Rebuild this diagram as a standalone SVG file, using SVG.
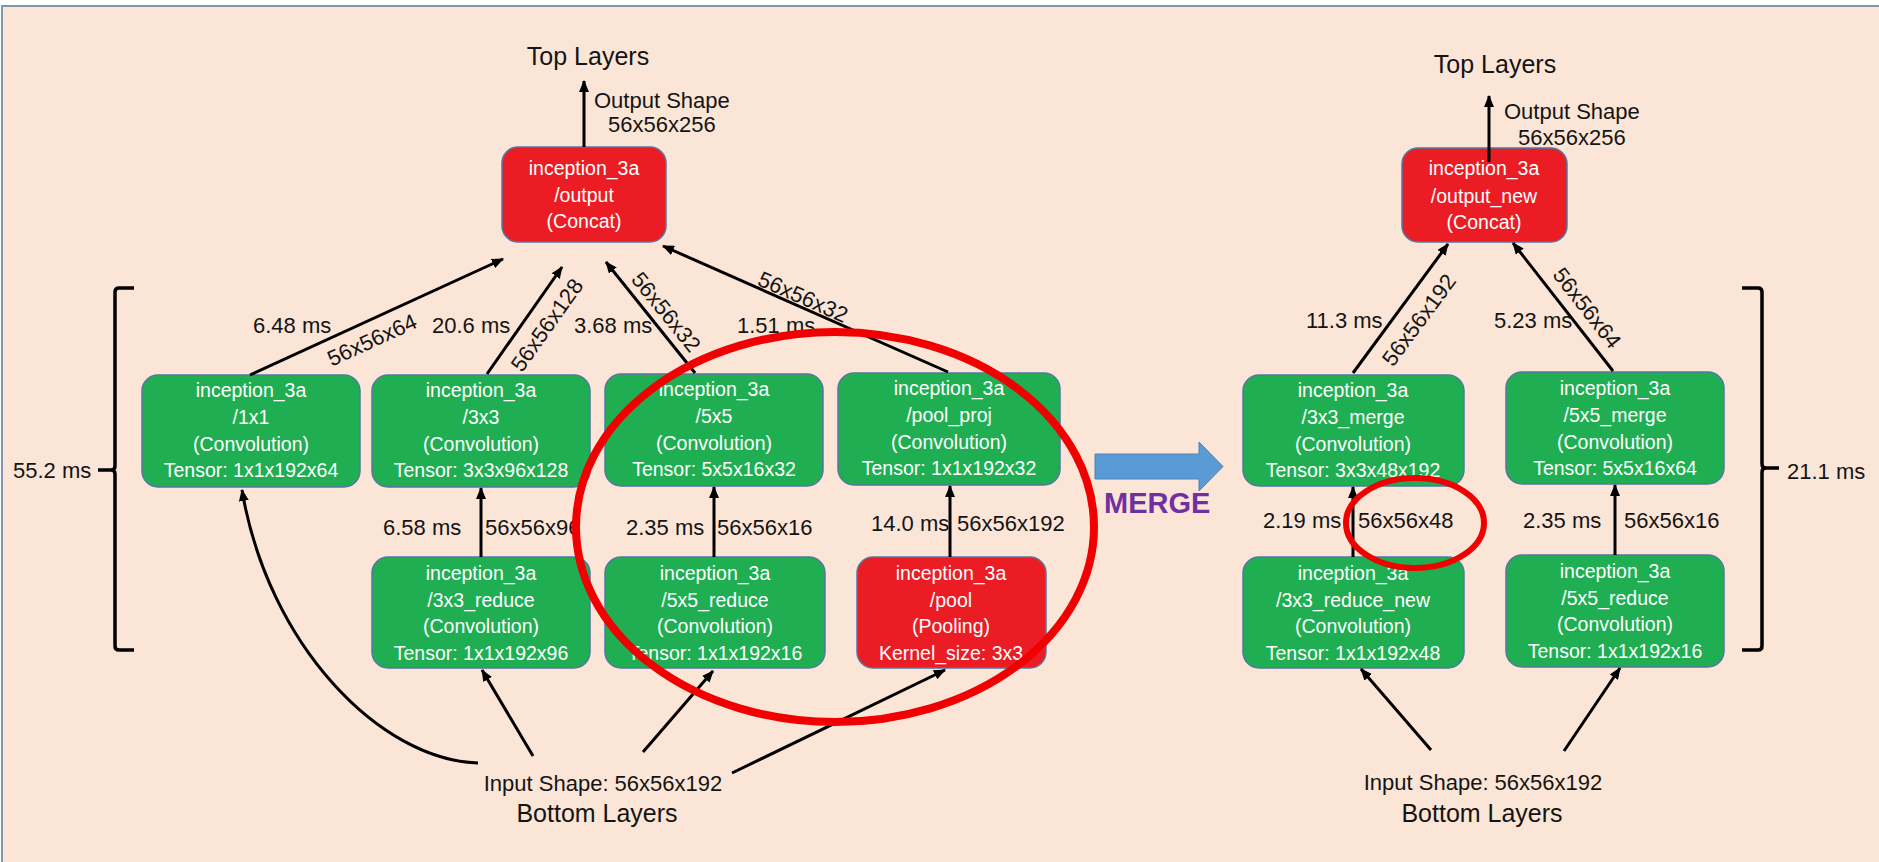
<svg xmlns="http://www.w3.org/2000/svg" width="1879" height="862" viewBox="0 0 1879 862">
<defs>
<style>
.bg{fill:#FBE5D6;stroke:#7F93B3;stroke-width:2}
.node rect{stroke:#5476A4;stroke-width:1.5}
.g{fill:#1FAF52}
.r{fill:#EC1C24}
.nt{font-family:"Liberation Sans",Arial,sans-serif;font-size:19.5px;fill:#fff;text-anchor:middle}
.lb{font-family:"Liberation Sans",Arial,sans-serif;font-size:22px;fill:#141414}
.big{font-family:"Liberation Sans",Arial,sans-serif;font-size:25px;fill:#141414;text-anchor:middle}
.rt{text-anchor:middle;dominant-baseline:central}
.conn line,.conn path{stroke:#000;stroke-width:3;fill:none;marker-end:url(#ah)}
.br{stroke:#000;stroke-width:3.5;fill:none}
.ring{fill:none;stroke:#F00000}
</style>
<marker id="ah" viewBox="0 0 12 10" refX="11" refY="5" markerWidth="12" markerHeight="10" markerUnits="userSpaceOnUse" orient="auto">
<path d="M0,0 L12,5 L0,10 z" fill="#000"/>
</marker>
</defs>
<rect x="0" y="0" width="1879" height="862" fill="#FFFFFF"/>
<rect class="bg" x="2" y="6" width="1890" height="870"/>

<!-- Left diagram nodes -->
<g id="output" class="node">
<rect class="r" x="502" y="147" width="164" height="95" rx="16"/>
<text class="nt" x="584" y="175">inception_3a</text>
<text class="nt" x="584" y="202">/output</text>
<text class="nt" x="584" y="228">(Concat)</text>
</g>
<g id="conv1x1" class="node">
<rect class="g" x="142" y="375" width="218" height="112" rx="16"/>
<text class="nt" x="251" y="397">inception_3a</text>
<text class="nt" x="251" y="424">/1x1</text>
<text class="nt" x="251" y="451">(Convolution)</text>
<text class="nt" x="251" y="477">Tensor: 1x1x192x64</text>
</g>
<g id="conv3x3" class="node">
<rect class="g" x="372" y="375" width="218" height="112" rx="16"/>
<text class="nt" x="481" y="397">inception_3a</text>
<text class="nt" x="481" y="424">/3x3</text>
<text class="nt" x="481" y="451">(Convolution)</text>
<text class="nt" x="481" y="477">Tensor: 3x3x96x128</text>
</g>
<g id="conv5x5" class="node">
<rect class="g" x="605" y="374" width="218" height="112" rx="16"/>
<text class="nt" x="714" y="396">inception_3a</text>
<text class="nt" x="714" y="423">/5x5</text>
<text class="nt" x="714" y="450">(Convolution)</text>
<text class="nt" x="714" y="476">Tensor: 5x5x16x32</text>
</g>
<g id="poolproj" class="node">
<rect class="g" x="838" y="373" width="222" height="112" rx="16"/>
<text class="nt" x="949" y="395">inception_3a</text>
<text class="nt" x="949" y="422">/pool_proj</text>
<text class="nt" x="949" y="449">(Convolution)</text>
<text class="nt" x="949" y="475">Tensor: 1x1x192x32</text>
</g>
<g id="reduce3x3" class="node">
<rect class="g" x="372" y="557" width="218" height="111" rx="16"/>
<text class="nt" x="481" y="580">inception_3a</text>
<text class="nt" x="481" y="607">/3x3_reduce</text>
<text class="nt" x="481" y="633">(Convolution)</text>
<text class="nt" x="481" y="660">Tensor: 1x1x192x96</text>
</g>
<g id="reduce5x5" class="node">
<rect class="g" x="605" y="557" width="220" height="111" rx="16"/>
<text class="nt" x="715" y="580">inception_3a</text>
<text class="nt" x="715" y="607">/5x5_reduce</text>
<text class="nt" x="715" y="633">(Convolution)</text>
<text class="nt" x="715" y="660">Tensor: 1x1x192x16</text>
</g>
<g id="pool" class="node">
<rect class="r" x="857" y="557" width="189" height="111" rx="16"/>
<text class="nt" x="951" y="580">inception_3a</text>
<text class="nt" x="951" y="607">/pool</text>
<text class="nt" x="951" y="633">(Pooling)</text>
<text class="nt" x="951" y="660">Kernel_size: 3x3</text>
</g>

<!-- Right diagram nodes -->
<g id="output_new" class="node">
<rect class="r" x="1402" y="148" width="165" height="94" rx="16"/>
<text class="nt" x="1484" y="175">inception_3a</text>
<text class="nt" x="1484" y="203">/output_new</text>
<text class="nt" x="1484" y="229">(Concat)</text>
</g>
<g id="merge3x3" class="node">
<rect class="g" x="1243" y="375" width="221" height="111" rx="16"/>
<text class="nt" x="1353" y="397">inception_3a</text>
<text class="nt" x="1353" y="424">/3x3_merge</text>
<text class="nt" x="1353" y="451">(Convolution)</text>
<text class="nt" x="1353" y="477">Tensor: 3x3x48x192</text>
</g>
<g id="merge5x5" class="node">
<rect class="g" x="1506" y="372" width="218" height="112" rx="16"/>
<text class="nt" x="1615" y="395">inception_3a</text>
<text class="nt" x="1615" y="422">/5x5_merge</text>
<text class="nt" x="1615" y="449">(Convolution)</text>
<text class="nt" x="1615" y="475">Tensor: 5x5x16x64</text>
</g>
<g id="reduce3x3_new" class="node">
<rect class="g" x="1243" y="557" width="221" height="111" rx="16"/>
<text class="nt" x="1353" y="580">inception_3a</text>
<text class="nt" x="1353" y="607">/3x3_reduce_new</text>
<text class="nt" x="1353" y="633">(Convolution)</text>
<text class="nt" x="1353" y="660">Tensor: 1x1x192x48</text>
</g>
<g id="reduce5x5_r" class="node">
<rect class="g" x="1506" y="555" width="218" height="112" rx="16"/>
<text class="nt" x="1615" y="578">inception_3a</text>
<text class="nt" x="1615" y="605">/5x5_reduce</text>
<text class="nt" x="1615" y="631">(Convolution)</text>
<text class="nt" x="1615" y="658">Tensor: 1x1x192x16</text>
</g>

<!-- Connectors -->
<g id="connectors" class="conn">
<line x1="584" y1="147" x2="584" y2="81"/>
<line x1="250" y1="375" x2="503" y2="259"/>
<line x1="487" y1="374" x2="562" y2="267"/>
<line x1="695" y1="373" x2="606" y2="262"/>
<line x1="948" y1="372" x2="663" y2="246"/>
<line x1="481" y1="557" x2="481" y2="488"/>
<line x1="714" y1="557" x2="714" y2="487"/>
<line x1="950" y1="557" x2="950" y2="486"/>
<path d="M478,763 C380,760 268,645 242,490"/>
<line x1="533" y1="756" x2="482" y2="670"/>
<line x1="643" y1="752" x2="713" y2="671"/>
<line x1="732" y1="773" x2="945" y2="670"/>
<line x1="1489" y1="162" x2="1489" y2="96"/>
<line x1="1353" y1="373" x2="1448" y2="244"/>
<line x1="1613" y1="371" x2="1513" y2="243"/>
<line x1="1353" y1="557" x2="1353" y2="487"/>
<line x1="1615" y1="555" x2="1615" y2="485"/>
<line x1="1431" y1="750" x2="1361" y2="669"/>
<line x1="1564" y1="751" x2="1620" y2="668"/>
</g>

<!-- Labels left -->
<g id="labels-left">
<text class="big" x="588" y="65">Top Layers</text>
<text class="lb" x="594" y="108">Output Shape</text>
<text class="lb" x="608" y="132">56x56x256</text>
<text class="lb" x="253" y="333">6.48 ms</text>
<text class="lb" x="432" y="333">20.6 ms</text>
<text class="lb" x="574" y="333">3.68 ms</text>
<text class="lb" x="737" y="333">1.51 ms</text>
<text class="lb rt" transform="translate(372,340) rotate(-24.6)">56x56x64</text>
<text class="lb rt" transform="translate(547,325) rotate(-54.7)">56x56x128</text>
<text class="lb rt" transform="translate(666,312) rotate(51)">56x56x32</text>
<text class="lb rt" transform="translate(803,297) rotate(23.7)">56x56x32</text>
<text class="lb" x="383" y="535">6.58 ms</text>
<text class="lb" x="485" y="535">56x56x96</text>
<text class="lb" x="626" y="535">2.35 ms</text>
<text class="lb" x="717" y="535">56x56x16</text>
<text class="lb" x="871" y="531">14.0 ms</text>
<text class="lb" x="957" y="531">56x56x192</text>
<text class="lb" x="13" y="478">55.2 ms</text>
<text class="lb" x="603" y="791" text-anchor="middle">Input Shape: 56x56x192</text>
<text class="big" x="597" y="822">Bottom Layers</text>
</g>

<!-- Labels right -->
<g id="labels-right">
<text class="big" x="1495" y="73">Top Layers</text>
<text class="lb" x="1504" y="119">Output Shape</text>
<text class="lb" x="1518" y="145">56x56x256</text>
<text class="lb" x="1306" y="328">11.3 ms</text>
<text class="lb" x="1494" y="328">5.23 ms</text>
<text class="lb rt" transform="translate(1419,320) rotate(-53.4)">56x56x192</text>
<text class="lb rt" transform="translate(1587,308) rotate(52)">56x56x64</text>
<text class="lb" x="1263" y="528">2.19 ms</text>
<text class="lb" x="1358" y="528">56x56x48</text>
<text class="lb" x="1523" y="528">2.35 ms</text>
<text class="lb" x="1624" y="528">56x56x16</text>
<text class="lb" x="1787" y="479">21.1 ms</text>
<text class="lb" x="1483" y="790" text-anchor="middle">Input Shape: 56x56x192</text>
<text class="big" x="1482" y="822">Bottom Layers</text>
</g>

<!-- Brackets -->
<path class="br" d="M134,288 L119,288 Q115,288 115,292 L115,466 Q115,470 111,470 L98,470 M111,470 Q115,470 115,474 L115,646 Q115,650 119,650 L134,650"/>
<path class="br" d="M1742,288 L1758,288 Q1762,288 1762,292 L1762,464 Q1762,468 1766,468 L1779,468 M1766,468 Q1762,468 1762,472 L1762,646 Q1762,650 1758,650 L1742,650"/>

<!-- MERGE arrow -->
<g id="merge">
<polygon points="1095,454 1199,454 1199,442 1223,466.5 1199,491 1199,479 1095,479" fill="#5B9BD5" stroke="#4A83BC" stroke-width="1"/>
<text x="1104" y="513" font-family="Liberation Sans, Arial, sans-serif" font-size="29" font-weight="bold" fill="#7030A0">MERGE</text>
</g>

<!-- Highlight ellipses -->
<ellipse class="ring" cx="835" cy="527" rx="259" ry="195" stroke-width="8"/>
<ellipse class="ring" cx="1415" cy="523" rx="69" ry="45" stroke-width="6"/>
</svg>
